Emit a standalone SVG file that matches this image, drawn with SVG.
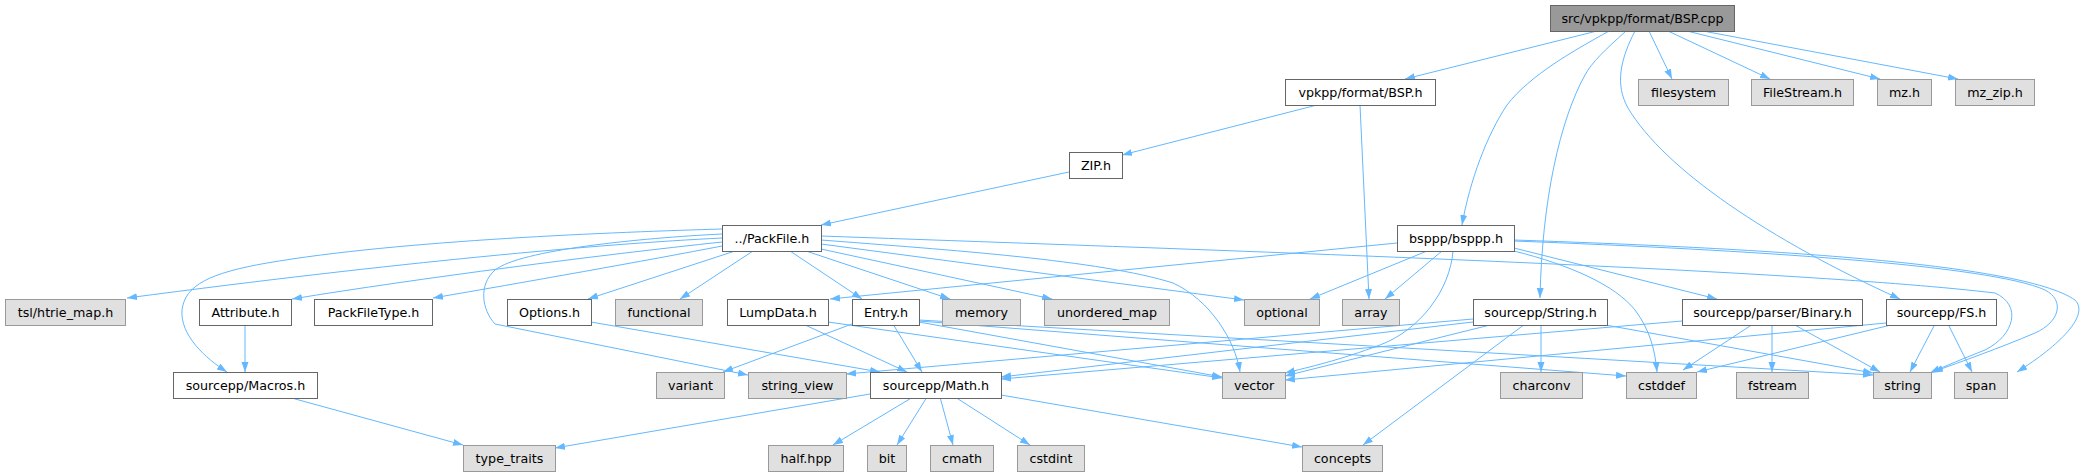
<svg xmlns="http://www.w3.org/2000/svg" width="2092" height="476" viewBox="0 0 2092 476">
<defs>
<marker id="ah" markerUnits="userSpaceOnUse" markerWidth="11" markerHeight="8" refX="10" refY="3.5" orient="auto">
<path d="M0,0 L10,3.5 L0,7 z" fill="#63b8ff"/>
</marker>
</defs>
<style>
rect.w{fill:#ffffff;stroke:#666666;stroke-width:1}
rect.g{fill:#e0e0e0;stroke:#999999;stroke-width:1}
rect.r{fill:#999999;stroke:#666666;stroke-width:1}
text{font-family:"DejaVu Sans","Liberation Sans",sans-serif;font-size:12.7px;fill:#000000;text-anchor:middle}
#edges path{fill:none;stroke:#63b8ff;stroke-width:1;marker-end:url(#ah)}
</style>
<rect width="2092" height="476" fill="#ffffff"/>
<g id="edges">
<path d="M1597,31 L1405,79"/>
<path d="M1609,31 C1575,50 1530,75 1507,105 C1487,135 1470,180 1462,225"/>
<path d="M1626,31 C1605,50 1592,62 1585,75 C1560,120 1542,200 1540,298"/>
<path d="M1635,31 C1620,60 1615,85 1628,108 C1665,170 1770,240 1900,299"/>
<path d="M1649,31 L1672,79"/>
<path d="M1668,31 L1770,79"/>
<path d="M1687,31 L1880,79"/>
<path d="M1703,31 L1958,79"/>
<path d="M1317,105 L1122,155"/>
<path d="M1360,105 L1369,299"/>
<path d="M1069,172 L821,225"/>
<path d="M722,238 C600,244 400,262 127,298"/>
<path d="M722,242 C600,255 420,278 292,299"/>
<path d="M722,246 C650,260 520,283 433,298"/>
<path d="M722,229 C620,232 400,240 267,263 C210,273 185,285 182,310 C180,335 205,358 227,372"/>
<path d="M722,234 C640,238 520,250 495,270 C478,285 482,310 495,324 L748,375"/>
<path d="M735,251 L588,299"/>
<path d="M753,251 L680,299"/>
<path d="M790,251 L862,299"/>
<path d="M806,251 L950,299"/>
<path d="M821,249 L1052,299"/>
<path d="M821,244 L1244,300"/>
<path d="M821,240 C950,250 1100,260 1173,283 C1210,300 1235,340 1240,372"/>
<path d="M821,236 C1300,253 1800,270 1995,293 C2022,305 2015,335 1985,350 C1965,358 1945,366 1930,373"/>
<path d="M1397,243 L830,299"/>
<path d="M1427,251 L1310,299"/>
<path d="M1442,251 L1385,299"/>
<path d="M1453,251 C1450,290 1420,330 1380,345 C1340,360 1310,367 1285,373"/>
<path d="M1514,248 L1717,299"/>
<path d="M1514,251 C1570,265 1615,285 1635,310 C1650,330 1655,350 1657,372"/>
<path d="M1514,241 C1750,250 1990,265 2045,290 C2065,300 2060,322 2035,333 C2000,348 1960,362 1933,372"/>
<path d="M1514,240 C1750,248 2020,262 2075,300 C2090,315 2060,345 2017,372"/>
<path d="M1541,324 L1541,372"/>
<path d="M1525,324 L1363,445"/>
<path d="M1494,324 L1285,376"/>
<path d="M1473,319 L846,374"/>
<path d="M1473,322 L1001,377"/>
<path d="M1600,324 L1873,373"/>
<path d="M1682,321 L1001,379"/>
<path d="M1753,324 L1683,370"/>
<path d="M1772,324 L1772,372"/>
<path d="M1793,324 L1880,372"/>
<path d="M1886,323 L1285,380"/>
<path d="M1895,324 L1697,372"/>
<path d="M1935,324 L1910,372"/>
<path d="M1948,324 L1972,372"/>
<path d="M852,324 L723,372"/>
<path d="M893,324 L922,372"/>
<path d="M919,322 L1222,377"/>
<path d="M919,321 L1626,376"/>
<path d="M919,320 L1873,375"/>
<path d="M803,324 L907,372"/>
<path d="M828,322 L1222,378"/>
<path d="M591,322 L880,372"/>
<path d="M245,324 L245,372"/>
<path d="M288,397 L463,445"/>
<path d="M870,394 L555,448"/>
<path d="M913,397 L833,445"/>
<path d="M927,397 L897,445"/>
<path d="M940,397 L953,445"/>
<path d="M955,397 L1030,445"/>
<path d="M1001,395 L1302,447"/>
</g>
<g id="n_root"><rect class="r" x="1550.5" y="5.5" width="184" height="26"/><text x="1642.5" y="23">src/vpkpp/format/BSP.cpp</text></g>
<g id="n_bsph"><rect class="w" x="1285.5" y="79.5" width="150" height="26"/><text x="1360.5" y="97">vpkpp/format/BSP.h</text></g>
<g id="n_filesystem"><rect class="g" x="1638.5" y="79.5" width="90" height="26"/><text x="1683.5" y="97">filesystem</text></g>
<g id="n_filestream"><rect class="g" x="1751.5" y="79.5" width="102" height="26"/><text x="1802.5" y="97">FileStream.h</text></g>
<g id="n_mz"><rect class="g" x="1877.5" y="79.5" width="54" height="26"/><text x="1904.5" y="97">mz.h</text></g>
<g id="n_mzzip"><rect class="g" x="1955.5" y="79.5" width="79" height="26"/><text x="1995" y="97">mz_zip.h</text></g>
<g id="n_zip"><rect class="w" x="1069.5" y="152.5" width="53" height="26"/><text x="1096" y="170">ZIP.h</text></g>
<g id="n_packfile"><rect class="w" x="722.5" y="225.5" width="99" height="26"/><text x="772" y="243">../PackFile.h</text></g>
<g id="n_bsppp"><rect class="w" x="1397.5" y="225.5" width="117" height="26"/><text x="1456" y="243">bsppp/bsppp.h</text></g>
<g id="n_tsl"><rect class="g" x="5.5" y="299.5" width="120" height="26"/><text x="65.5" y="317">tsl/htrie_map.h</text></g>
<g id="n_attribute"><rect class="w" x="199.5" y="299.5" width="92" height="26"/><text x="245.5" y="317">Attribute.h</text></g>
<g id="n_packfiletype"><rect class="w" x="314.5" y="299.5" width="118" height="26"/><text x="373.5" y="317">PackFileType.h</text></g>
<g id="n_options"><rect class="w" x="507.5" y="299.5" width="84" height="26"/><text x="549.5" y="317">Options.h</text></g>
<g id="n_functional"><rect class="g" x="615.5" y="299.5" width="87" height="26"/><text x="659" y="317">functional</text></g>
<g id="n_lumpdata"><rect class="w" x="727.5" y="299.5" width="101" height="26"/><text x="778" y="317">LumpData.h</text></g>
<g id="n_entry"><rect class="w" x="852.5" y="299.5" width="67" height="26"/><text x="886" y="317">Entry.h</text></g>
<g id="n_memory"><rect class="g" x="942.5" y="299.5" width="78" height="26"/><text x="981.5" y="317">memory</text></g>
<g id="n_unordered_map"><rect class="g" x="1044.5" y="299.5" width="125" height="26"/><text x="1107" y="317">unordered_map</text></g>
<g id="n_optional"><rect class="g" x="1244.5" y="299.5" width="75" height="26"/><text x="1282" y="317">optional</text></g>
<g id="n_array"><rect class="g" x="1342.5" y="299.5" width="57" height="26"/><text x="1371" y="317">array</text></g>
<g id="n_string_h"><rect class="w" x="1473.5" y="299.5" width="134" height="26"/><text x="1540.5" y="317">sourcepp/String.h</text></g>
<g id="n_binary"><rect class="w" x="1682.5" y="299.5" width="180" height="26"/><text x="1772.5" y="317">sourcepp/parser/Binary.h</text></g>
<g id="n_fs"><rect class="w" x="1886.5" y="299.5" width="110" height="26"/><text x="1941.5" y="317">sourcepp/FS.h</text></g>
<g id="n_macros"><rect class="w" x="173.5" y="372.5" width="144" height="26"/><text x="245.5" y="390">sourcepp/Macros.h</text></g>
<g id="n_variant"><rect class="g" x="656.5" y="372.5" width="68" height="26"/><text x="690.5" y="390">variant</text></g>
<g id="n_string_view"><rect class="g" x="748.5" y="372.5" width="98" height="26"/><text x="797.5" y="390">string_view</text></g>
<g id="n_math"><rect class="w" x="870.5" y="372.5" width="131" height="26"/><text x="936" y="390">sourcepp/Math.h</text></g>
<g id="n_vector"><rect class="g" x="1222.5" y="372.5" width="63" height="26"/><text x="1254" y="390">vector</text></g>
<g id="n_charconv"><rect class="g" x="1500.5" y="372.5" width="82" height="26"/><text x="1541.5" y="390">charconv</text></g>
<g id="n_cstddef"><rect class="g" x="1626.5" y="372.5" width="70" height="26"/><text x="1661.5" y="390">cstddef</text></g>
<g id="n_fstream"><rect class="g" x="1736.5" y="372.5" width="72" height="26"/><text x="1772.5" y="390">fstream</text></g>
<g id="n_string"><rect class="g" x="1873.5" y="372.5" width="58" height="26"/><text x="1902.5" y="390">string</text></g>
<g id="n_span"><rect class="g" x="1954.5" y="372.5" width="53" height="26"/><text x="1981" y="390">span</text></g>
<g id="n_type_traits"><rect class="g" x="463.5" y="445.5" width="92" height="26"/><text x="509.5" y="463">type_traits</text></g>
<g id="n_half"><rect class="g" x="768.5" y="445.5" width="75" height="26"/><text x="806" y="463">half.hpp</text></g>
<g id="n_bit"><rect class="g" x="867.5" y="445.5" width="39" height="26"/><text x="887" y="463">bit</text></g>
<g id="n_cmath"><rect class="g" x="930.5" y="445.5" width="63" height="26"/><text x="962" y="463">cmath</text></g>
<g id="n_cstdint"><rect class="g" x="1017.5" y="445.5" width="67" height="26"/><text x="1051" y="463">cstdint</text></g>
<g id="n_concepts"><rect class="g" x="1302.5" y="445.5" width="80" height="26"/><text x="1342.5" y="463">concepts</text></g>
</svg>
